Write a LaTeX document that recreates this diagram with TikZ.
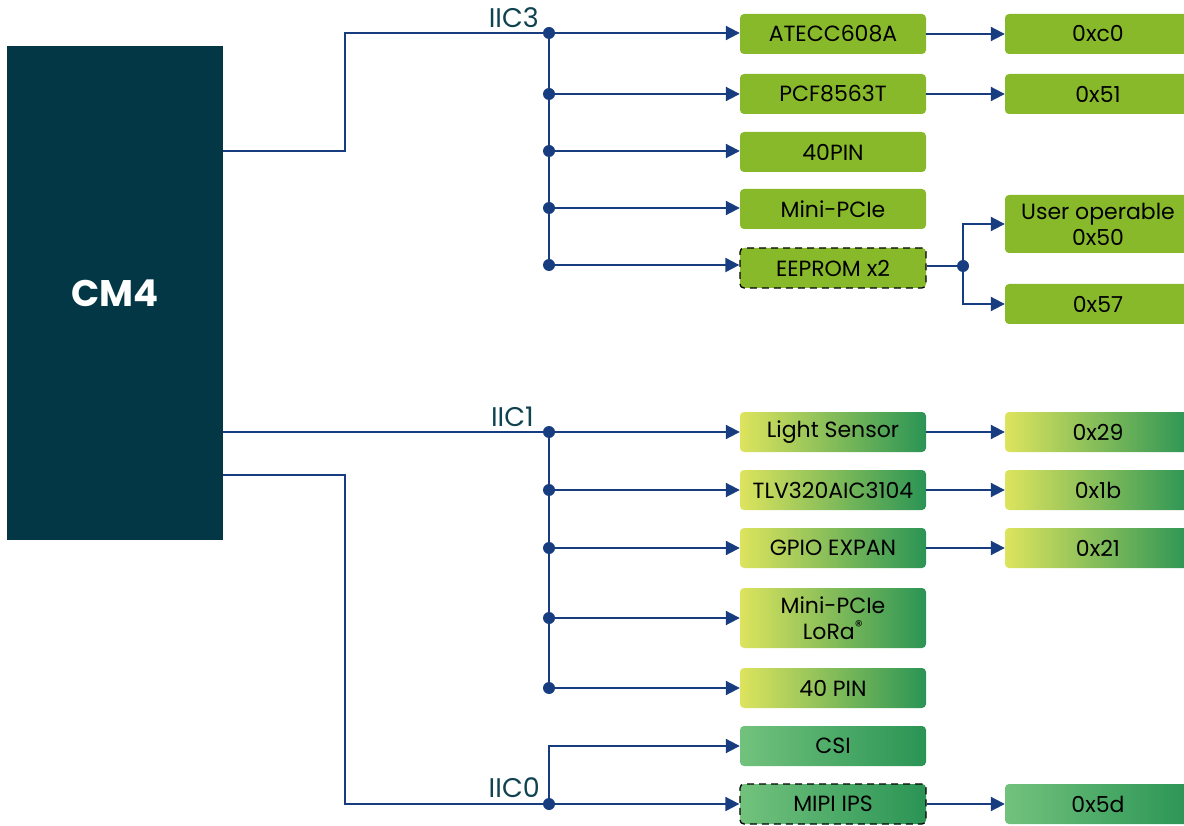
\documentclass[tikz,border=0pt]{standalone}
\usepackage{fontspec}
\setmainfont{Poppins}
\usepackage{xcolor}
\usetikzlibrary{positioning,calc,arrows.meta}

\definecolor{cmteal}{HTML}{033745}
\definecolor{busblue}{HTML}{173C80}
\definecolor{leaf}{HTML}{87B92B}
\definecolor{limey}{HTML}{DDE45E}
\definecolor{deepgreen}{HTML}{2A9455}
\definecolor{mintgreen}{HTML}{72C27C}
\definecolor{labteal}{HTML}{0F4350}

\tikzset{
	dev/.style={rounded corners=4pt, minimum width=186pt, minimum height=40pt, inner sep=0pt, align=center, text=black, font=\fontsize{22}{26}\selectfont},
	plainbox/.style={dev, fill=leaf},
	fadebox/.style={dev, left color=limey, right color=deepgreen},
	softbox/.style={dev, left color=mintgreen, right color=deepgreen},
	dashedge/.style={draw=black, line width=1.3pt, dash pattern=on 7pt off 5pt},
	bus/.style={busblue, line width=2pt},
	feed/.style={bus, -{Triangle[length=14pt,width=14pt]}},
	joint/.style={circle, fill=busblue, inner sep=0pt, minimum size=12pt},
	iic/.style={text=labteal, inner sep=0pt, font=\fontsize{27}{30}\selectfont}
}

\begin{document}
\begin{tikzpicture}[x=1pt,y=-1pt]
	\useasboundingbox (0,0) rectangle (1184,826);
	\def\col{833}
	\def\adr{1098}
	\def\bx{549}

	% the module
	\node[fill=cmteal, minimum width=216pt, minimum height=494pt, inner sep=0pt, text=white, font=\bfseries\fontsize{37}{40}\selectfont] (cm4) at (115,293) {CM4};
	\coordinate (o3) at (223,151);
	\coordinate (o1) at (223,432);
	\coordinate (o0) at (223,475);

	% IIC3 devices
	\node[plainbox] (atecc) at (\col,34) {ATECC608A};
	\node[plainbox] (pcf) at (\col,94) {PCF8563T};
	\node[plainbox] (pina) at (\col,152) {40PIN};
	\node[plainbox] (pcie) at (\col,209) {Mini-PCIe};
	\node[plainbox, dashedge] (eeprom) at (\col,268) {EEPROM x2};
	\node[plainbox] (c0) at (\adr,34) {0xc0};
	\node[plainbox] (h51) at (\adr,94) {0x51};
	\node[plainbox, minimum height=58pt] (h50) at (\adr,224) {User operable\\0x50};
	\node[plainbox] (h57) at (\adr,304) {0x57};

	% IIC1 devices
	\node[fadebox] (light) at (\col,432) {Light Sensor};
	\node[fadebox] (tlv) at (\col,490) {TLV320AIC3104};
	\node[fadebox] (gpio) at (\col,548) {GPIO EXPAN};
	\node[fadebox, minimum height=60pt] (lora) at (\col,618) {Mini-PCIe\\LoRa\textsuperscript{®}};
	\node[fadebox] (pinb) at (\col,688) {40 PIN};
	\node[fadebox] (h29) at (\adr,432) {0x29};
	\node[fadebox] (h1b) at (\adr,490) {0x1b};
	\node[fadebox] (h21) at (\adr,548) {0x21};

	% IIC0 devices
	\node[softbox] (csi) at (\col,746) {CSI};
	\node[softbox, dashedge] (mipi) at (\col,804) {MIPI IPS};
	\node[softbox] (h5d) at (\adr,804) {0x5d};

	% junctions
	\node[joint] (j3a) at (\bx,33) {};
	\node[joint] (j3b) at (\bx,94) {};
	\node[joint] (j3c) at (\bx,151) {};
	\node[joint] (j3d) at (\bx,208) {};
	\node[joint] (j3e) at (\bx,265) {};
	\node[joint] (je) at (963,266) {};
	\node[joint] (j1a) at (\bx,432) {};
	\node[joint] (j1b) at (\bx,490) {};
	\node[joint] (j1c) at (\bx,548) {};
	\node[joint] (j1d) at (\bx,618) {};
	\node[joint] (j1e) at (\bx,688) {};
	\node[joint] (j0) at (\bx,804) {};

	% bus labels
	\node[iic, anchor=base east] (l3) at (539,28) {IIC3};
	\node[iic, anchor=base east] (l1) at (534,426) {IIC1};
	\node[iic, anchor=base east] (l0) at (540,797) {IIC0};

	% IIC3 wiring
	\draw[bus] (o3) -- ++(122,0) |- (j3a);
	\draw[bus] (j3a.center) -- (j3e.center);
	\foreach \j/\d in {j3a/atecc, j3b/pcf, j3c/pina, j3d/pcie, j3e/eeprom}
		\draw[feed] (\j.center) -- (\j.center -| \d.west);
	\draw[feed] (atecc) -- (c0);
	\draw[feed] (pcf) -- (h51);
	\draw[bus] (eeprom.east |- je) -- (je.center);
	\draw[feed] (je.center) |- (h50.west);
	\draw[feed] (je.center) |- (h57.west);

	% IIC1 wiring
	\draw[bus] (o1) -- (j1a.center) -- (j1e.center);
	\foreach \j/\d in {j1a/light, j1b/tlv, j1c/gpio, j1d/lora, j1e/pinb}
		\draw[feed] (\j.center) -- (\d.west);
	\draw[feed] (light) -- (h29);
	\draw[feed] (tlv) -- (h1b);
	\draw[feed] (gpio) -- (h21);

	% IIC0 wiring
	\draw[bus] (o0) -- ++(122,0) |- (j0.center);
	\draw[feed] (j0.center) |- (csi.west);
	\draw[feed] (j0.center) -- (mipi.west);
	\draw[feed] (mipi) -- (h5d);
\end{tikzpicture}
\end{document}
